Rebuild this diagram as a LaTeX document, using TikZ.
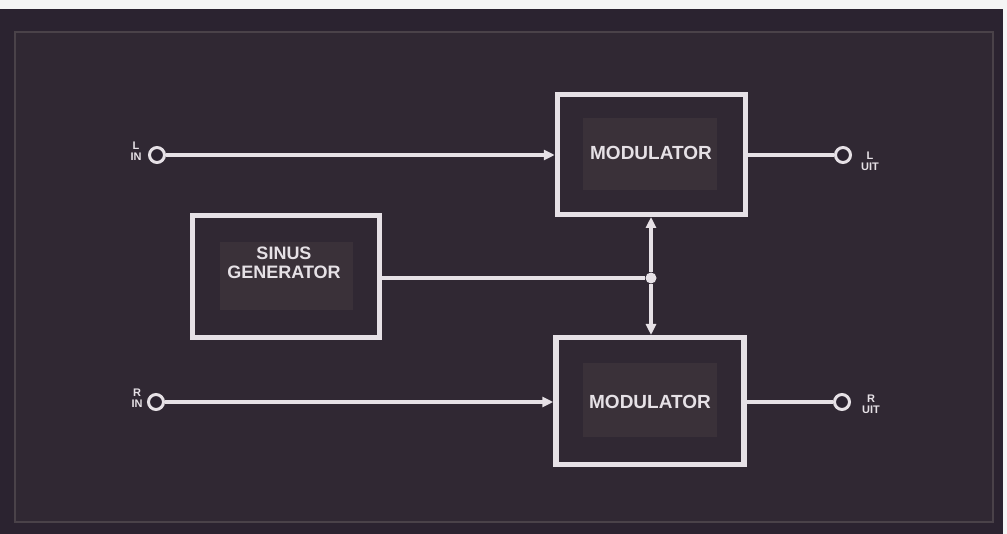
\documentclass[tikz,border=0pt]{standalone}
\usepackage{fontspec}
\setmainfont{Liberation Sans}
\usetikzlibrary{arrows.meta}
\definecolor{bgdark}{HTML}{2B2330}
\definecolor{panel}{HTML}{302833}
\definecolor{frameline}{HTML}{4A4249}
\definecolor{inner}{HTML}{3A3139}
\definecolor{wline}{HTML}{E6E1E6}
\tikzset{
  x=1pt, y=-1pt,
  btext/.style={text=wline, font=\bfseries\fontsize{19}{21}\selectfont, align=center},
  wire/.style={draw=wline, line width=3.5pt},
  arrowwire/.style={wire, -{Triangle[length=11pt,width=10pt]}},
  terminal/.style={circle, draw=wline, line width=3pt, fill=bgdark, minimum size=15pt, inner sep=0pt},
  termlabel/.style={text=wline, font=\bfseries\fontsize{11}{11}\selectfont, align=center, inner sep=0pt},
  dot/.style={circle, fill=wline, minimum size=11pt, inner sep=0pt},
  blockbox/.style={draw=wline, line width=5.5pt, inner sep=0pt}
}
\begin{document}
\begin{tikzpicture}
\useasboundingbox (0,0) rectangle (1007,534);
\fill[white!92!gray] (0,0) rectangle (1007,534);
\fill[bgdark] (0,9) rectangle (1003,534);
\draw[frameline, line width=1.5pt, fill=panel] (15,32) rectangle (993,522);

% inner shaded panels
\fill[inner] (583,118) rectangle (717,190);
\fill[inner] (220,242) rectangle (353,310);
\fill[inner] (583,363) rectangle (717,437);

% blocks
\node[blockbox, minimum width=188pt, minimum height=120pt] (mod1) at (651.5,154.5) {};
\node[blockbox, minimum width=188pt, minimum height=127pt] (mod2) at (650,401) {};
\node[blockbox, minimum width=187pt, minimum height=122pt] (gen) at (286,276.5) {};

\node[btext] (t1) at (651,153) {MODULATOR};
\node[btext] (t2) at (650,402) {MODULATOR};
\node[btext, font=\bfseries\fontsize{18}{19}\selectfont] (t3) at (284,263) {SINUS\\GENERATOR};

% terminals
\node[terminal] (lin) at (157,155) {};
\node[terminal] (lout) at (843,155) {};
\node[terminal] (rin) at (156,402) {};
\node[terminal] (rout) at (842,402) {};

\node[termlabel] (linl) at (136,151) {L\\IN};
\node[termlabel] (loutl) at (870,161) {L\\UIT};
\node[termlabel] (rinl) at (137,398) {R\\IN};
\node[termlabel] (routl) at (871,404) {R\\UIT};

% coordinates on block edges
\coordinate (m1in) at (mod1.west |- lin);
\coordinate (m1out) at (mod1.east |- lout);
\coordinate (m2in) at (mod2.west |- rin);
\coordinate (m2out) at (mod2.east |- rout);
\coordinate (gout) at (gen.east |- 0,278);
\node[dot] (junc) at (651,278) {};
\coordinate (jtop) at (651,217);
\coordinate (jbot) at (651,335);

% wires
\draw[arrowwire] (lin.east) -- (m1in);
\draw[wire] (m1out) -- (lout.west);
\draw[arrowwire] (rin.east) -- (m2in);
\draw[wire] (m2out) -- (rout.west);
\draw[wire] (gout) -- (junc);
\draw[arrowwire] (junc) -- (jtop);
\draw[arrowwire] (junc) -- (jbot);
\end{tikzpicture}
\end{document}
